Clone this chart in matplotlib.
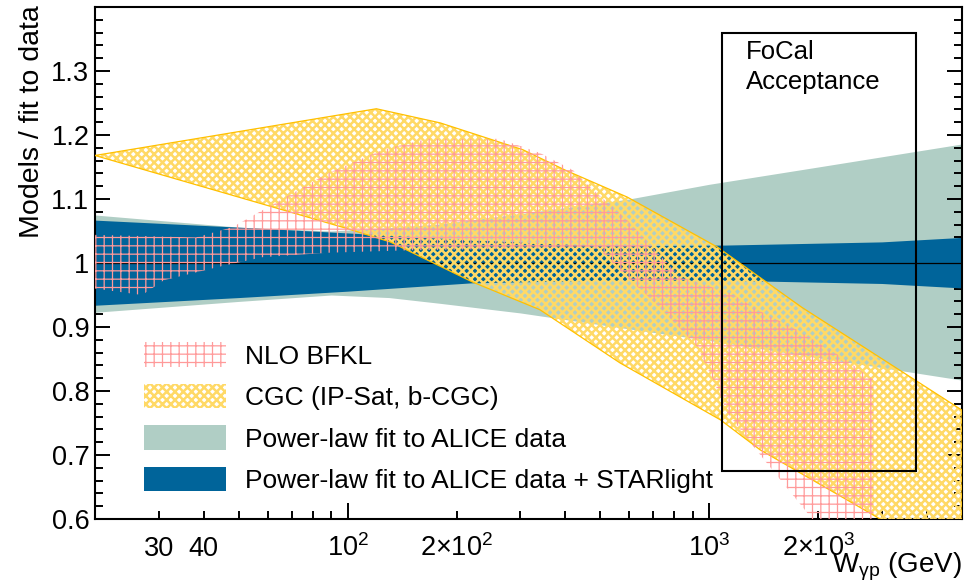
import math
import matplotlib
matplotlib.use('Agg')
import matplotlib.pyplot as plt
from matplotlib.patches import Patch, Rectangle
from matplotlib.ticker import FixedLocator, FuncFormatter

plt.rcParams['font.family'] = ['Liberation Sans', 'DejaVu Sans']
plt.rcParams['mathtext.fontset'] = 'custom'
plt.rcParams['mathtext.rm'] = 'Liberation Sans'
plt.rcParams['mathtext.it'] = 'Liberation Sans:italic'
plt.rcParams['hatch.linewidth'] = 0.8

# power-law fit to ALICE data (ratio band)
w_fit = [20, 50, 90, 130, 180, 300, 600, 1000, 2000, 5000]
fit_hi = [1.075, 1.056, 1.050, 1.055, 1.061, 1.077, 1.100, 1.123, 1.150, 1.186]
fit_lo = [0.923, 0.940, 0.950, 0.946, 0.937, 0.922, 0.897, 0.879, 0.852, 0.817]

# power-law fit to ALICE data + STARlight
w_star = [20, 50, 100, 220, 500, 1100, 3000, 5000]
star_hi = [1.067, 1.056, 1.047, 1.036, 1.027, 1.028, 1.033, 1.040]
star_lo = [0.934, 0.946, 0.956, 0.969, 0.973, 0.973, 0.968, 0.961]

# CGC (IP-Sat, b-CGC)
cgc_w_hi = [20, 120, 180, 305, 400, 593, 1052, 1800, 5000]
cgc_hi = [1.168, 1.241, 1.219, 1.177, 1.145, 1.103, 1.025, 0.931, 0.770]
cgc_w_lo = [20, 98, 131, 222, 340, 566, 1073, 1383, 2786, 5000]
cgc_lo = [1.168, 1.055, 1.033, 0.970, 0.927, 0.844, 0.755, 0.708, 0.609, 0.525]

# NLO BFKL
bfkl_w_hi = [20, 38, 48, 66, 88, 125, 166, 263, 340, 420, 467, 593, 831,
             1143, 1411, 1755, 2400, 2846, 2846]
bfkl_hi = [1.044, 1.040, 1.056, 1.100, 1.140, 1.177, 1.194, 1.194, 1.172,
           1.145, 1.119, 1.067, 0.978, 0.953, 0.922, 0.895, 0.848, 0.817, 0.50]
bfkl_w_lo = [20, 27, 31, 44, 58, 88, 150, 300, 467, 499, 604, 732, 926,
             1026, 1122, 1326, 1870, 2500]
bfkl_lo = [0.960, 0.950, 0.973, 0.994, 1.009, 1.016, 1.020, 1.022, 1.025,
           1.020, 0.973, 0.931, 0.869, 0.817, 0.766, 0.713, 0.609, 0.50]

# FoCal acceptance box
focal_w = [1087, 3722]
focal_r = [0.675, 1.359]

labels = ['NLO BFKL', 'CGC (IP-Sat, b-CGC)', 'Power-law fit to ALICE data',
          'Power-law fit to ALICE data + STARlight']

c_fit = '#b0cec5'
c_star = '#00649a'
c_cgc = '#ffd966'
c_cgc_edge = '#ffc000'
c_bfkl = '#ff9a9a'


def hatch_lw(artist, lw):
    # per-artist hatch width (newer matplotlib only)
    try:
        artist.set_hatch_linewidth(lw)
    except AttributeError:
        pass


fig = plt.figure(figsize=(9.76, 5.86), dpi=100)
ax = fig.add_axes([95 / 976, 67 / 586, 867 / 976, 512 / 586])

ax.fill_between(w_fit, fit_lo, fit_hi, color=c_fit, lw=0, zorder=1)
ax.fill_between(w_star, star_lo, star_hi, color=c_star, lw=0, zorder=2)
ax.axhline(1.0, color='black', lw=0.9, zorder=2.5)

cgc_x = cgc_w_hi + cgc_w_lo[::-1]
cgc_y = cgc_hi + cgc_lo[::-1]
p_cgc = ax.fill(cgc_x, cgc_y, facecolor='none', edgecolor=c_cgc, hatch='xxxx',
                lw=0, zorder=3)[0]
hatch_lw(p_cgc, 1.8)
ax.plot(cgc_x + [cgc_x[0]], cgc_y + [cgc_y[0]], color=c_cgc_edge, lw=0.9, zorder=3)

bfkl_x = bfkl_w_hi + bfkl_w_lo[::-1]
bfkl_y = bfkl_hi + bfkl_lo[::-1]
p_bfkl = ax.fill(bfkl_x, bfkl_y, facecolor='none', edgecolor=c_bfkl, hatch='++',
                 lw=0, zorder=4)[0]
hatch_lw(p_bfkl, 0.9)

ax.add_patch(Rectangle((focal_w[0], focal_r[0]), focal_w[1] - focal_w[0],
                       focal_r[1] - focal_r[0], fill=False, ec='black',
                       lw=1.5, zorder=5))
ax.text(1266, 1.348, 'FoCal\nAcceptance', fontsize=18.5, va='top', ha='left',
        linespacing=1.32, zorder=6)

ax.set_xscale('log')
ax.set_xlim(20, 5000)
ax.set_ylim(0.6, 1.4)

major_x = [100, 1000]
minor_x = [30, 40, 50, 60, 70, 80, 90, 200, 300, 400, 500, 600, 700, 800, 900,
           2000, 3000, 4000]
minor_lab = {30: '30', 40: '40', 200: r'$2{\times}10^{2}$', 2000: r'$2{\times}10^{3}$'}
ax.xaxis.set_major_locator(FixedLocator(major_x))
ax.xaxis.set_major_formatter(FuncFormatter(lambda v, pos: r'$10^{%d}$' % round(math.log10(v))))
ax.xaxis.set_minor_locator(FixedLocator(minor_x))
ax.xaxis.set_minor_formatter(FuncFormatter(lambda v, pos: minor_lab.get(int(round(v)), '')))

major_y = [0.6, 0.7, 0.8, 0.9, 1.0, 1.1, 1.2, 1.3, 1.4]
ax.yaxis.set_major_locator(FixedLocator(major_y))
ax.yaxis.set_minor_locator(FixedLocator([0.6 + 0.02 * i for i in range(41)]))
ax.yaxis.set_major_formatter(FuncFormatter(lambda v, pos: '' if v > 1.35 else ('%g' % round(v, 2))))

ax.tick_params(which='both', direction='in', top=False, right=True, width=1.4,
               labelsize=19.5)
ax.tick_params(axis='y', which='major', length=11, pad=4)
ax.tick_params(axis='y', which='minor', length=5.8)
ax.tick_params(axis='x', which='major', length=11.5, pad=27)
ax.tick_params(axis='x', which='minor', length=5.8, pad=27)
for lbl in ax.get_xticklabels(which='both'):
    lbl.set_va('baseline')
for s in ax.spines.values():
    s.set_linewidth(1.5)

ax.text(1.0, -0.104, r'W$_{\mathrm{γp}}$ (GeV)', transform=ax.transAxes,
        ha='right', va='baseline', fontsize=20)
fig.text(32 / 976, 1 - 5 / 586, 'Models / fit to data', rotation=90,
         ha='center', va='top', fontsize=20.5)

handles = [Patch(facecolor='none', edgecolor=c_bfkl, hatch='++', lw=0),
           Patch(facecolor='none', edgecolor=c_cgc, hatch='xxxx', lw=0),
           Patch(facecolor=c_fit, lw=0),
           Patch(facecolor=c_star, lw=0)]
leg = ax.legend(handles, labels, loc='upper left', bbox_to_anchor=(0.057, 0.345),
                frameon=False, fontsize=19, handlelength=3.1, handleheight=1.05,
                labelspacing=0.58, handletextpad=0.72, borderpad=0, borderaxespad=0)
hatch_lw(leg.legend_handles[0], 0.9)
hatch_lw(leg.legend_handles[1], 1.8)

fig.savefig('out.png', dpi=100)
